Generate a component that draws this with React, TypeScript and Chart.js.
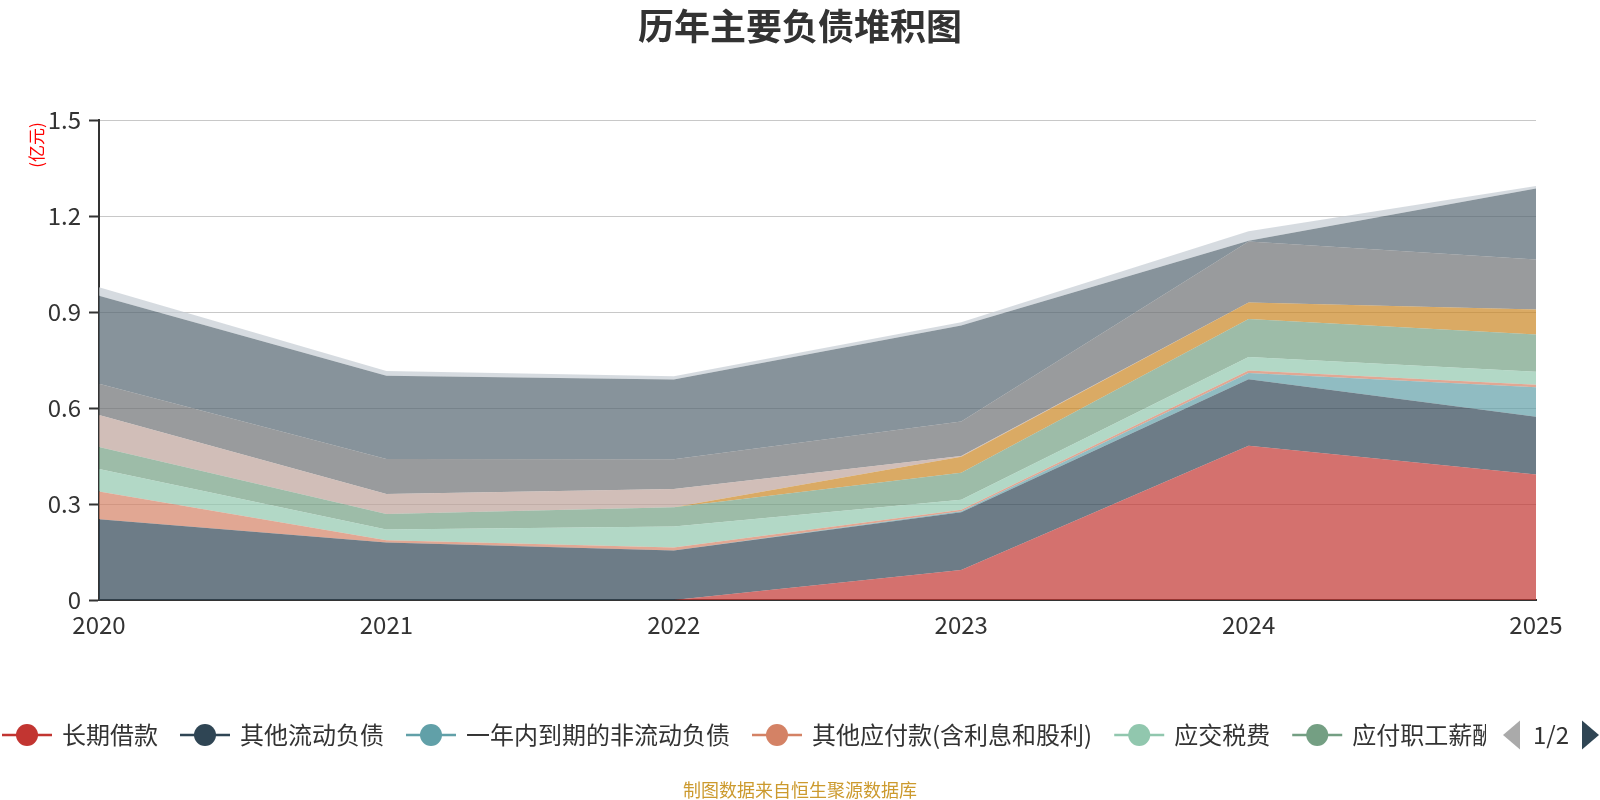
import React, { useEffect, useRef } from "react";
import { Chart, registerables } from "chart.js";

Chart.register(...registerables);

// 年份
const years = ["2020", "2021", "2022", "2023", "2024", "2025"];

// 各负债科目金额（亿元），自下而上堆积
const changQiJieKuan = [0, 0, 0, 0.094, 0.482, 0.392];
const qiTaLiuDongFuZhai = [0.252, 0.18, 0.155, 0.18, 0.208, 0.181];
const yiNianNeiDaoQi = [0, 0, 0, 0.003, 0.019, 0.092];
const qiTaYingFuKuan = [0.087, 0.007, 0.009, 0.005, 0.008, 0.008];
const yingJiaoShuiFei = [0.07, 0.033, 0.066, 0.031, 0.042, 0.04];
const yingFuZhiGongXinChou = [0.069, 0.049, 0.06, 0.085, 0.119, 0.117];
const heTongFuZhai = [0, 0, 0, 0.05, 0.052, 0.078];
const yuShouKuanXiang = [0.1, 0.062, 0.057, 0.002, 0, 0];
const yingFuZhangKuan = [0.098, 0.11, 0.093, 0.108, 0.19, 0.156];
const yingFuPiaoJu = [0.275, 0.26, 0.249, 0.3, 0.003, 0.222];
const duanQiJieKuan = [0.026, 0.015, 0.01, 0.01, 0.029, 0.008];

const seriesNames = [
  "长期借款",
  "其他流动负债",
  "一年内到期的非流动负债",
  "其他应付款(含利息和股利)",
  "应交税费",
  "应付职工薪酬",
  "合同负债",
  "预收款项",
  "应付账款",
  "应付票据",
  "短期借款",
];
const seriesValues = [
  changQiJieKuan,
  qiTaLiuDongFuZhai,
  yiNianNeiDaoQi,
  qiTaYingFuKuan,
  yingJiaoShuiFei,
  yingFuZhiGongXinChou,
  heTongFuZhai,
  yuShouKuanXiang,
  yingFuZhangKuan,
  yingFuPiaoJu,
  duanQiJieKuan,
];
const palette = [
  "#c23531",
  "#2f4554",
  "#61a0a8",
  "#d48265",
  "#91c7ae",
  "#749f83",
  "#ca8622",
  "#bda29a",
  "#6e7074",
  "#546570",
  "#c4ccd3",
];

const TITLE = "历年主要负债堆积图";
const UNIT = "(亿元)";
const SOURCE = "制图数据来自恒生聚源数据库";
const PAGE_TEXT = "1/2";
const LEGEND_PAGE_SIZE = 6;

const FONT = '"Noto Sans CJK SC", "Noto Sans", sans-serif';

function withAlpha(hex: string, a: number) {
  const n = parseInt(hex.slice(1), 16);
  return `rgba(${(n >> 16) & 255}, ${(n >> 8) & 255}, ${n & 255}, ${a})`;
}

// 标题、单位、分页图例和数据来源
const overlayPlugin = {
  id: "overlay",
  afterDraw(chart: any) {
    const ctx: CanvasRenderingContext2D = chart.ctx;
    ctx.save();

    ctx.fillStyle = "#333";
    ctx.font = `bold 36px ${FONT}`;
    ctx.textAlign = "center";
    ctx.textBaseline = "middle";
    ctx.fillText(TITLE, 800, 26);

    ctx.save();
    ctx.translate(37, 145);
    ctx.rotate(-Math.PI / 2);
    ctx.fillStyle = "#ff0000";
    ctx.font = `17px ${FONT}`;
    ctx.fillText(UNIT, 0, 0);
    ctx.restore();

    // 图例（第一页）
    const cy = 735;
    ctx.save();
    ctx.beginPath();
    ctx.rect(0, 700, 1486, 70);
    ctx.clip();
    ctx.font = `24px ${FONT}`;
    ctx.textAlign = "left";
    let x = 2;
    chart.data.datasets.slice(0, LEGEND_PAGE_SIZE).forEach((ds: any) => {
      const color = ds.legendColor;
      ctx.strokeStyle = color;
      ctx.lineWidth = 2.5;
      ctx.beginPath();
      ctx.moveTo(x, cy);
      ctx.lineTo(x + 50, cy);
      ctx.stroke();
      ctx.fillStyle = color;
      ctx.beginPath();
      ctx.arc(x + 25, cy, 11, 0, Math.PI * 2);
      ctx.fill();
      ctx.fillStyle = "#333";
      ctx.fillText(ds.label, x + 60, cy);
      x += 60 + ctx.measureText(ds.label).width + 22;
    });
    ctx.restore();

    // 图例翻页按钮
    ctx.fillStyle = "#aaa";
    ctx.beginPath();
    ctx.moveTo(1503, cy);
    ctx.lineTo(1520, cy - 14.5);
    ctx.lineTo(1520, cy + 14.5);
    ctx.closePath();
    ctx.fill();
    ctx.fillStyle = "#333";
    ctx.font = `24px ${FONT}`;
    ctx.textAlign = "center";
    ctx.fillText(PAGE_TEXT, 1551, cy);
    ctx.fillStyle = "#2f4554";
    ctx.beginPath();
    ctx.moveTo(1582, cy - 14.5);
    ctx.lineTo(1582, cy + 14.5);
    ctx.lineTo(1599, cy);
    ctx.closePath();
    ctx.fill();

    ctx.fillStyle = "#cc9a2e";
    ctx.font = `18px ${FONT}`;
    ctx.textAlign = "center";
    ctx.fillText(SOURCE, 800, 790);

    ctx.restore();
  },
};

export default function App() {
  const canvasRef = useRef<HTMLCanvasElement | null>(null);

  useEffect(() => {
    if (!canvasRef.current) return;
    Chart.defaults.font.family = FONT;

    const datasets = seriesNames.map((name, i) => ({
      label: name,
      data: seriesValues[i],
      legendColor: palette[i],
      backgroundColor: withAlpha(palette[i], 0.7),
      borderColor: "rgba(0,0,0,0)",
      borderWidth: 0,
      pointRadius: 0,
      pointHoverRadius: 0,
      tension: 0,
      fill: i === 0 ? "origin" : "-1",
    }));

    const chart = new Chart(canvasRef.current, {
      type: "line",
      data: { labels: years, datasets: datasets as any },
      options: {
        animation: false,
        responsive: false,
        devicePixelRatio: 1,
        layout: { padding: { top: 120, right: 64, bottom: 0, left: 0 } },
        plugins: {
          legend: { display: false },
          title: { display: false },
          tooltip: { enabled: false },
        },
        scales: {
          x: {
            offset: false,
            grid: { display: false },
            border: { display: true, color: "#333", width: 2 },
            ticks: {
              color: "#333",
              font: { size: 24 },
              padding: 2,
              maxRotation: 0,
              autoSkip: false,
            },
            afterFit: (s: any) => {
              s.height = 200;
            },
          },
          y: {
            stacked: true,
            min: 0,
            max: 1.5,
            grid: {
              color: "#c8c8c8",
              lineWidth: 1,
              tickColor: "#333",
              tickLength: 10,
              tickWidth: 2,
            },
            border: { display: true, color: "#333", width: 2 },
            ticks: {
              stepSize: 0.3,
              color: "#333",
              font: { size: 24 },
              padding: 8,
              callback: (v: any) => String(Number(Number(v).toFixed(1))),
            },
            afterFit: (s: any) => {
              s.width = 99;
            },
          },
        },
      },
      plugins: [overlayPlugin],
    });

    return () => chart.destroy();
  }, []);

  return (
    <canvas
      ref={canvasRef}
      width={1600}
      height={800}
      style={{ position: "absolute", left: 0, top: 0, width: 1600, height: 800 }}
    />
  );
}
